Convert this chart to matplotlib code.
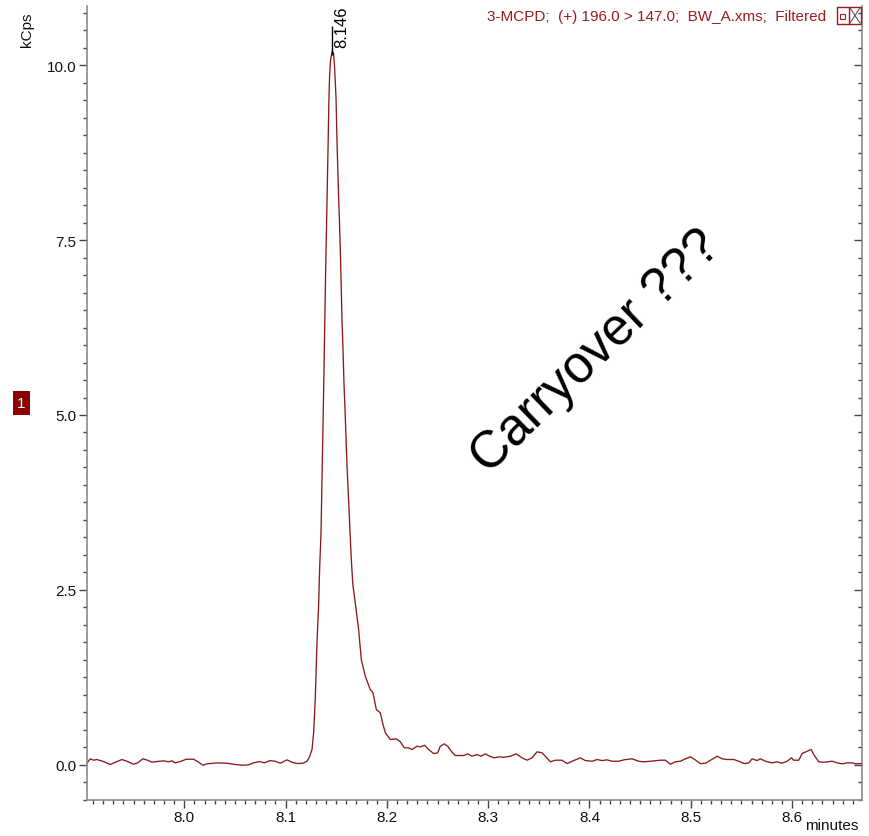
import matplotlib
matplotlib.use("Agg")
import matplotlib.pyplot as plt
from matplotlib.ticker import MultipleLocator, FixedLocator, FormatStrFormatter
from matplotlib.patches import Rectangle
from matplotlib.lines import Line2D

plt.rcParams['font.family'] = ['Liberation Sans', 'DejaVu Sans']

# Retention time (minutes) and detector response (kCps) of the 196.0 > 147.0 transition
time_min = [
    7.9042, 7.9072, 7.9104, 7.9138, 7.9203, 7.9269, 7.9319, 7.9385, 7.9434, 7.9499,
    7.9539, 7.9592, 7.9648, 7.9681, 7.9730, 7.9796, 7.9845, 7.9879, 7.9911, 7.9961,
    8.0020, 8.0092, 8.0131, 8.0185, 8.0224, 8.0323, 8.0422, 8.0487, 8.0570, 8.0635,
    8.0684, 8.0743, 8.0790, 8.0849, 8.0898, 8.0948, 8.1014, 8.1063, 8.1119, 8.1172,
    8.1211, 8.1237, 8.1261, 8.1277, 8.1293, 8.1310, 8.1326, 8.1336, 8.1350, 8.1358,
    8.1367, 8.1377, 8.1387, 8.1395, 8.1402, 8.1412, 8.1419, 8.1427, 8.1435, 8.1445,
    8.1461, 8.1474, 8.1484, 8.1498, 8.1508, 8.1523, 8.1533, 8.1543, 8.1550, 8.1557,
    8.1567, 8.1577, 8.1587, 8.1597, 8.1606, 8.1616, 8.1626, 8.1636, 8.1649, 8.1664,
    8.1688, 8.1721, 8.1748, 8.1787, 8.1836, 8.1863, 8.1896, 8.1935, 8.1962, 8.1985,
    8.2034, 8.2093, 8.2133, 8.2172, 8.2215, 8.2248, 8.2298, 8.2330, 8.2373, 8.2412,
    8.2462, 8.2501, 8.2528, 8.2567, 8.2600, 8.2643, 8.2676, 8.2758, 8.2797, 8.2841,
    8.2890, 8.2930, 8.2972, 8.3014, 8.3061, 8.3103, 8.3153, 8.3219, 8.3278, 8.3334,
    8.3384, 8.3433, 8.3482, 8.3532, 8.3564, 8.3614, 8.3663, 8.3729, 8.3779, 8.3828,
    8.3910, 8.3959, 8.4026, 8.4075, 8.4124, 8.4174, 8.4223, 8.4288, 8.4338, 8.4420,
    8.4486, 8.4535, 8.4601, 8.4700, 8.4749, 8.4799, 8.4848, 8.4897, 8.4947, 8.4996,
    8.5029, 8.5095, 8.5145, 8.5194, 8.5260, 8.5309, 8.5358, 8.5424, 8.5473, 8.5529,
    8.5572, 8.5606, 8.5655, 8.5687, 8.5737, 8.5803, 8.5852, 8.5901, 8.5951, 8.5993,
    8.6016, 8.6066, 8.6099, 8.6148, 8.6188, 8.6214, 8.6263, 8.6313, 8.6395, 8.6445,
    8.6494, 8.6543, 8.6593, 8.6625, 8.6658, 8.6692,
]
kcps = [
    0.024, 0.082, 0.062, 0.072, 0.043, 0.000, 0.033, 0.072, 0.047, 0.004,
    0.024, 0.082, 0.057, 0.033, 0.043, 0.053, 0.039, 0.053, 0.024, 0.043,
    0.076, 0.076, 0.043, -0.010, 0.010, 0.024, 0.019, 0.004, -0.010, -0.004,
    0.024, 0.043, 0.024, 0.057, 0.047, 0.019, 0.067, 0.033, 0.014, 0.019,
    0.047, 0.110, 0.215, 0.454, 0.930, 1.741, 2.265, 2.790, 3.315, 3.934,
    4.650, 5.436, 6.366, 7.010, 7.511, 8.155, 8.798, 9.442, 9.871, 10.086,
    10.205, 10.172, 9.971, 9.542, 8.898, 8.155, 7.725, 7.225, 6.795, 6.366,
    5.937, 5.436, 5.079, 4.650, 4.292, 3.977, 3.677, 3.362, 2.933, 2.575,
    2.313, 1.931, 1.502, 1.263, 1.073, 1.026, 0.787, 0.740, 0.572, 0.454,
    0.358, 0.368, 0.325, 0.239, 0.239, 0.215, 0.262, 0.253, 0.276, 0.215,
    0.157, 0.167, 0.262, 0.296, 0.262, 0.176, 0.129, 0.129, 0.153, 0.119,
    0.143, 0.119, 0.153, 0.119, 0.096, 0.110, 0.104, 0.119, 0.153, 0.096,
    0.062, 0.096, 0.182, 0.167, 0.119, 0.039, 0.062, 0.062, 0.014, 0.047,
    0.096, 0.057, 0.047, 0.072, 0.057, 0.067, 0.047, 0.047, 0.067, 0.082,
    0.047, 0.039, 0.047, 0.062, 0.062, 0.004, 0.039, 0.047, 0.082, 0.110,
    0.082, 0.014, 0.019, 0.062, 0.119, 0.082, 0.072, 0.072, 0.047, 0.014,
    0.024, 0.082, 0.057, 0.082, 0.047, 0.024, 0.039, 0.019, 0.047, 0.096,
    0.062, 0.062, 0.157, 0.190, 0.215, 0.143, 0.039, 0.033, 0.047, 0.024,
    0.010, 0.024, 0.024, 0.010, 0.014, 0.010,
]

peak_rt = 8.146
peak_height = 10.205
peak_label = "8.146"

x_ticks = [8.0, 8.1, 8.2, 8.3, 8.4, 8.5, 8.6]
y_ticks = [0.0, 2.5, 5.0, 7.5, 10.0]

trace_title = "3-MCPD;  (+) 196.0 > 147.0;  BW_A.xms;  Filtered"
note = "Carryover ???"

TRACE_RED = '#8B1A1A'
SPINE_GREY = '#8a8a8a'
TICK_COL = '#444444'

W, H = 870, 837
fig = plt.figure(figsize=(W / 100, H / 100), dpi=100)
ax = fig.add_axes([87 / W, 1 - 800.5 / H, 775 / W, 793.5 / H])

ax.plot(time_min, kcps, color=TRACE_RED, lw=0.95)
ax.set_xlim(7.904, 8.669)
ax.set_ylim(-0.5, 10.85)

ax.spines['top'].set_visible(False)
ax.spines['right'].set_visible(False)
for side in ('left', 'bottom'):
    ax.spines[side].set_color(SPINE_GREY)
    ax.spines[side].set_linewidth(1.2)

ax.xaxis.set_major_locator(FixedLocator(x_ticks))
ax.xaxis.set_minor_locator(MultipleLocator(0.01))
ax.xaxis.set_major_formatter(FormatStrFormatter('%.1f'))
ax.yaxis.set_major_locator(FixedLocator(y_ticks))
ax.yaxis.set_minor_locator(MultipleLocator(0.25))
ax.yaxis.set_major_formatter(FormatStrFormatter('%.1f'))

ax.tick_params(axis='both', which='major', direction='out', length=6, width=1,
               color=TICK_COL, labelsize=11, labelcolor='#111111', pad=1.5)
ax.tick_params(axis='both', which='minor', direction='out', length=3, width=1,
               color=TICK_COL)

# right-hand scale: ticks pointing into the plot, no labels
sec = ax.secondary_yaxis('right')
sec.spines['right'].set_color(SPINE_GREY)
sec.spines['right'].set_linewidth(1.2)
sec.yaxis.set_major_locator(FixedLocator(y_ticks))
sec.yaxis.set_minor_locator(MultipleLocator(0.25))
sec.tick_params(axis='y', which='major', direction='in', length=6, width=1,
                color=TICK_COL, labelright=False)
sec.tick_params(axis='y', which='minor', direction='in', length=3, width=1,
                color=TICK_COL)

# peak apex marker and retention-time label
ax.vlines(peak_rt, peak_height - 0.05, peak_height + 0.36, color='black', lw=1.0)
ax.annotate(peak_label, xy=(peak_rt, peak_height), xytext=(10, 4),
            textcoords='offset pixels', rotation=90, ha='center', va='bottom',
            fontsize=12, color='black')

# axis captions
fig.text(27 / W, 1 - 30 / H, 'kCps', rotation=90, ha='center', va='center',
         fontsize=11, color='#111111')
fig.text(832 / W, 1 - 826 / H, 'minutes', ha='center', va='center',
         fontsize=11, color='#111111')

# trace header
fig.text(826 / W, 1 - 17 / H, trace_title, ha='right', va='center',
         fontsize=11, color='#9B1C1C')

# window buttons next to the header
fig.add_artist(Rectangle((837 / W, 1 - 25 / H), 24 / W, 17 / H, fill=False,
                         ec='#9B1C1C', lw=1.0, transform=fig.transFigure))
fig.add_artist(Line2D([849 / W, 849 / W], [1 - 25 / H, 1 - 8 / H],
                      color='#9B1C1C', lw=1.0, transform=fig.transFigure))
fig.add_artist(Rectangle((840.5 / W, 1 - 19.5 / H), 5 / W, 5 / H, fill=False,
                         ec='#9B1C1C', lw=0.8, transform=fig.transFigure))
fig.add_artist(Line2D([850 / W, 860 / W], [1 - 24 / H, 1 - 9 / H],
                      color='#555555', lw=0.8, transform=fig.transFigure))
fig.add_artist(Line2D([850 / W, 860 / W], [1 - 9 / H, 1 - 24 / H],
                      color='#555555', lw=0.8, transform=fig.transFigure))

# trace index badge
fig.text(21.5 / W, 1 - 404 / H, '1', ha='center', va='center', fontsize=11,
         color='white',
         bbox=dict(boxstyle='square,pad=0.3', fc='#8B0000', ec='none'))

# handwritten-style remark
fig.text(596 / W, 1 - 352 / H, note, rotation=44, rotation_mode='anchor',
         ha='center', va='center', fontsize=37, color='black')

fig.savefig('out.png', dpi=100)
